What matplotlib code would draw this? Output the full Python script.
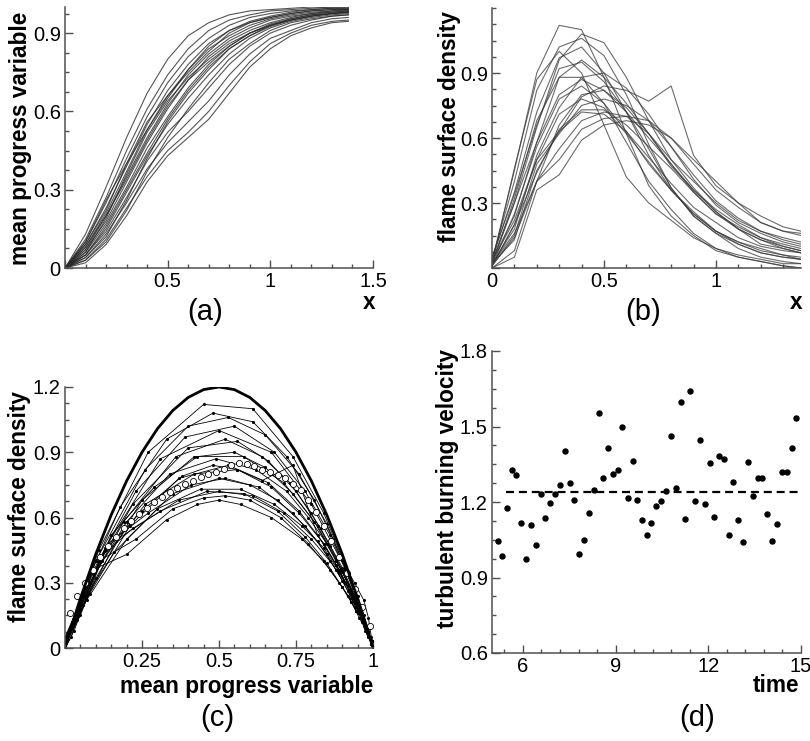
import matplotlib
matplotlib.use("Agg")
import matplotlib.pyplot as plt
from matplotlib.ticker import MultipleLocator

plt.rcParams['font.family'] = ['Liberation Sans', 'DejaVu Sans']

# ---- data ----
x_grid = [0, 0.1, 0.2, 0.3, 0.4, 0.5, 0.6, 0.7, 0.8, 0.9, 1.0, 1.1, 1.2, 1.3, 1.38]

# (a) mean progress variable, one row per realisation
progress_curves = [
    [0, 0.13, 0.31, 0.50, 0.67, 0.80, 0.89, 0.94, 0.97, 0.985, 0.99, 0.995, 1.0, 1.0, 1.0],
    [0, 0.11, 0.27, 0.45, 0.61, 0.74, 0.84, 0.91, 0.95, 0.97, 0.985, 0.99, 0.995, 1.0, 1.0],
    [0, 0.10, 0.25, 0.42, 0.58, 0.71, 0.81, 0.88, 0.93, 0.96, 0.975, 0.985, 0.99, 0.995, 0.995],
    [0, 0.09, 0.23, 0.39, 0.55, 0.68, 0.78, 0.86, 0.91, 0.94, 0.96, 0.975, 0.985, 0.99, 0.99],
    [0, 0.08, 0.21, 0.37, 0.53, 0.66, 0.76, 0.84, 0.89, 0.93, 0.955, 0.97, 0.98, 0.985, 0.99],
    [0, 0.07, 0.20, 0.35, 0.50, 0.63, 0.74, 0.82, 0.88, 0.92, 0.95, 0.965, 0.975, 0.985, 0.985],
    [0, 0.07, 0.18, 0.33, 0.48, 0.61, 0.72, 0.81, 0.87, 0.91, 0.94, 0.96, 0.975, 0.98, 0.985],
    [0, 0.06, 0.17, 0.31, 0.46, 0.58, 0.69, 0.78, 0.85, 0.90, 0.93, 0.955, 0.97, 0.975, 0.98],
    [0, 0.05, 0.15, 0.29, 0.43, 0.55, 0.65, 0.74, 0.82, 0.88, 0.92, 0.945, 0.96, 0.97, 0.975],
    [0, 0.05, 0.14, 0.27, 0.41, 0.52, 0.60, 0.69, 0.78, 0.85, 0.90, 0.93, 0.95, 0.965, 0.97],
    [0, 0.04, 0.13, 0.25, 0.38, 0.48, 0.56, 0.64, 0.74, 0.82, 0.88, 0.91, 0.94, 0.955, 0.96],
    [0, 0.03, 0.11, 0.23, 0.35, 0.45, 0.52, 0.60, 0.70, 0.79, 0.86, 0.90, 0.93, 0.945, 0.95],
    [0, 0.02, 0.09, 0.20, 0.33, 0.43, 0.50, 0.57, 0.67, 0.77, 0.84, 0.89, 0.92, 0.94, 0.945],
    [0, 0.06, 0.19, 0.36, 0.52, 0.64, 0.73, 0.80, 0.86, 0.90, 0.93, 0.95, 0.965, 0.975, 0.98],
    [0, 0.09, 0.22, 0.40, 0.56, 0.66, 0.75, 0.83, 0.90, 0.94, 0.96, 0.975, 0.985, 0.99, 0.99],
    [0, 0.04, 0.12, 0.26, 0.42, 0.56, 0.67, 0.76, 0.84, 0.89, 0.925, 0.95, 0.965, 0.975, 0.98],
    [0, 0.10, 0.26, 0.40, 0.53, 0.65, 0.76, 0.85, 0.91, 0.945, 0.965, 0.98, 0.99, 0.995, 0.995],
    [0, 0.05, 0.16, 0.30, 0.44, 0.57, 0.68, 0.77, 0.84, 0.89, 0.93, 0.95, 0.965, 0.975, 0.98],
    [0, 0.08, 0.20, 0.34, 0.49, 0.62, 0.72, 0.79, 0.85, 0.90, 0.935, 0.955, 0.97, 0.98, 0.985],
    [0, 0.03, 0.10, 0.22, 0.37, 0.50, 0.61, 0.71, 0.80, 0.86, 0.91, 0.94, 0.955, 0.965, 0.97],
]

# (b) flame surface density, same realisations in the same order
fsd_curves = [
    [0.02, 0.46, 0.87, 1.00, 0.90, 0.66, 0.42, 0.30, 0.22, 0.14, 0.09, 0.05, 0.03, 0.01, 0.0],
    [0.03, 0.45, 0.90, 1.12, 1.10, 0.88, 0.62, 0.38, 0.24, 0.15, 0.08, 0.05, 0.03, 0.01, 0.0],
    [0.02, 0.32, 0.68, 0.88, 0.88, 0.76, 0.58, 0.40, 0.27, 0.16, 0.09, 0.06, 0.04, 0.02, 0.02],
    [0.04, 0.35, 0.72, 0.97, 1.02, 0.90, 0.72, 0.52, 0.36, 0.25, 0.17, 0.11, 0.07, 0.05, 0.04],
    [0.01, 0.25, 0.56, 0.78, 0.84, 0.76, 0.63, 0.48, 0.36, 0.25, 0.17, 0.12, 0.08, 0.06, 0.04],
    [0.03, 0.22, 0.50, 0.71, 0.78, 0.74, 0.62, 0.49, 0.36, 0.26, 0.17, 0.12, 0.09, 0.06, 0.05],
    [0.02, 0.30, 0.65, 0.96, 1.08, 1.04, 0.88, 0.68, 0.50, 0.37, 0.26, 0.18, 0.11, 0.09, 0.07],
    [0.01, 0.20, 0.50, 0.63, 0.72, 0.71, 0.63, 0.51, 0.39, 0.28, 0.21, 0.14, 0.10, 0.08, 0.07],
    [0.02, 0.18, 0.52, 0.74, 0.88, 0.90, 0.83, 0.71, 0.56, 0.41, 0.29, 0.21, 0.16, 0.12, 0.10],
    [0.01, 0.15, 0.48, 0.62, 0.75, 0.78, 0.75, 0.68, 0.56, 0.43, 0.31, 0.23, 0.17, 0.13, 0.11],
    [0.02, 0.13, 0.45, 0.63, 0.79, 0.84, 0.82, 0.77, 0.84, 0.52, 0.38, 0.30, 0.21, 0.17, 0.15],
    [0.0, 0.08, 0.40, 0.50, 0.64, 0.69, 0.70, 0.68, 0.60, 0.48, 0.36, 0.28, 0.21, 0.17, 0.16],
    [0.0, 0.05, 0.36, 0.43, 0.59, 0.66, 0.68, 0.66, 0.60, 0.50, 0.40, 0.30, 0.24, 0.19, 0.17],
    [0.03, 0.24, 0.58, 0.88, 0.96, 0.88, 0.76, 0.62, 0.47, 0.36, 0.27, 0.20, 0.14, 0.10, 0.08],
    [0.05, 0.34, 0.66, 0.92, 0.95, 0.86, 0.72, 0.55, 0.37, 0.24, 0.16, 0.11, 0.07, 0.05, 0.04],
    [0.02, 0.16, 0.40, 0.66, 0.80, 0.82, 0.74, 0.62, 0.48, 0.36, 0.26, 0.18, 0.13, 0.10, 0.08],
    [0.04, 0.40, 0.82, 1.02, 1.06, 0.98, 0.80, 0.57, 0.37, 0.24, 0.16, 0.09, 0.05, 0.03, 0.02],
    [0.01, 0.20, 0.44, 0.64, 0.73, 0.73, 0.66, 0.56, 0.46, 0.35, 0.25, 0.19, 0.14, 0.11, 0.09],
    [0.03, 0.30, 0.58, 0.80, 0.87, 0.82, 0.72, 0.60, 0.48, 0.35, 0.25, 0.18, 0.13, 0.09, 0.07],
    [0.01, 0.14, 0.40, 0.55, 0.68, 0.72, 0.70, 0.62, 0.50, 0.40, 0.30, 0.22, 0.17, 0.14, 0.12],
]

# (c) averaged profile (white circles) and bounding model curve
c_mean = [0.015, 0.04, 0.065, 0.09, 0.115, 0.14, 0.165, 0.19, 0.215, 0.24,
          0.265, 0.29, 0.315, 0.34, 0.365, 0.39, 0.415, 0.44, 0.465, 0.49,
          0.515, 0.54, 0.565, 0.59, 0.615, 0.64, 0.665, 0.69, 0.715, 0.74,
          0.765, 0.79, 0.815, 0.84, 0.865, 0.89, 0.915, 0.94, 0.965, 0.99]
fsd_mean = [0.16, 0.24, 0.30, 0.36, 0.42, 0.47, 0.51, 0.55, 0.585, 0.615,
            0.645, 0.67, 0.695, 0.715, 0.735, 0.755, 0.77, 0.785, 0.80, 0.81,
            0.825, 0.84, 0.85, 0.845, 0.835, 0.82, 0.81, 0.795, 0.78, 0.755,
            0.725, 0.68, 0.625, 0.56, 0.49, 0.42, 0.345, 0.27, 0.19, 0.10]
c_model = [0, 0.01, 0.025, 0.05, 0.1, 0.15, 0.2, 0.25, 0.3, 0.35, 0.4, 0.45, 0.5,
           0.55, 0.6, 0.65, 0.7, 0.75, 0.8, 0.85, 0.9, 0.95, 0.975, 0.99, 1.0]
fsd_model = [0, 0.048, 0.117, 0.228, 0.432, 0.612, 0.768, 0.90, 1.008, 1.092, 1.152, 1.188, 1.20,
             1.188, 1.152, 1.092, 1.008, 0.90, 0.768, 0.612, 0.432, 0.228, 0.117, 0.048, 0]

# (d) turbulent burning velocity vs time
times = [5.18, 5.31, 5.47, 5.64, 5.79, 5.95, 6.11, 6.26, 6.42, 6.57, 6.73, 6.89, 7.04,
         7.20, 7.35, 7.51, 7.66, 7.82, 7.97, 8.13, 8.29, 8.45, 8.60, 8.76, 8.91, 9.07,
         9.22, 9.39, 9.55, 9.70, 9.86, 10.01, 10.16, 10.32, 10.48, 10.64, 10.80, 10.95,
         11.11, 11.26, 11.41, 11.57, 11.72, 11.88, 12.04, 12.19, 12.35, 12.50, 12.66,
         12.81, 12.97, 13.13, 13.29, 13.44, 13.60, 13.75, 13.91, 14.07, 14.22, 14.39,
         14.54, 14.70, 14.85]
velocity = [1.044, 0.987, 1.175, 1.329, 1.308, 1.117, 0.974, 1.107, 1.031, 1.231, 1.138,
            1.198, 1.231, 1.266, 1.404, 1.276, 1.209, 0.995, 1.048, 1.158, 1.247, 1.552,
            1.295, 1.413, 1.312, 1.329, 1.499, 1.217, 1.361, 1.207, 1.129, 1.067, 1.118,
            1.186, 1.205, 1.244, 1.463, 1.254, 1.596, 1.133, 1.641, 1.203, 1.445, 1.194,
            1.356, 1.141, 1.384, 1.372, 1.069, 1.280, 1.128, 1.042, 1.360, 1.222, 1.296,
            1.295, 1.152, 1.046, 1.111, 1.320, 1.319, 1.414, 1.532]
mean_velocity = 1.24
mean_span = [5.45, 15.0]

W, H = 810, 741
AXC = '#505050'
fig = plt.figure(figsize=(W / 100, H / 100), dpi=100)


def px_axes(left, top, right, bottom):
    return fig.add_axes([left / W, 1 - bottom / H, (right - left) / W, (bottom - top) / H])


def style(ax, xlim, ylim, xt, xl, xminor, yt, yl, yminor):
    ax.set_xlim(*xlim)
    ax.set_ylim(*ylim)
    for s in ['top', 'right']:
        ax.spines[s].set_visible(False)
    for s in ['left', 'bottom']:
        ax.spines[s].set_color(AXC)
        ax.spines[s].set_linewidth(1.1)
    ax.set_xticks(xt, xl)
    ax.set_yticks(yt, yl)
    ax.xaxis.set_minor_locator(MultipleLocator(xminor))
    ax.yaxis.set_minor_locator(MultipleLocator(yminor))
    ax.tick_params(which='both', direction='in', color=AXC, width=1.0,
                   labelsize=14.5, pad=3)
    ax.tick_params(which='major', length=6)
    ax.tick_params(which='minor', length=3)


def label(x, y, s, size=16.3, bold=True, rot=0, ha='center'):
    fig.text(x / W, 1 - y / H, s, fontsize=size, rotation=rot, ha=ha, va='center',
             fontweight='bold' if bold else 'normal')


# (a)
ax = px_axes(65, 7, 373, 268)
for row in progress_curves:
    ax.plot(x_grid, row, color='#2a2a2a', lw=0.8, alpha=0.8)
style(ax, (0, 1.5), (0, 1.0), [0, 0.5, 1, 1.5], ['', '0.5', '1', '1.5'], 0.1,
      [0, 0.3, 0.6, 0.9], ['0', '0.3', '0.6', '0.9'], 0.075)
label(21, 138, 'mean progress variable', rot=90)
label(369, 302, 'x')
label(205, 312, '(a)', size=21, bold=False)

# (b)
ax = px_axes(492, 8, 801, 268)
for row in fsd_curves:
    ax.plot(x_grid, row, color='#3a3a3a', lw=0.8, alpha=0.75)
style(ax, (0, 1.38), (0, 1.2), [0, 0.5, 1], ['0', '0.5', '1'], 0.1,
      [0, 0.3, 0.6, 0.9], ['', '0.3', '0.6', '0.9'], 0.075)
label(449, 127, 'flame surface density', rot=90)
label(796, 302, 'x')
label(643, 312, '(b)', size=21, bold=False)

# (c)
ax = px_axes(65, 387, 373, 648)
for cr, sr in zip(progress_curves, fsd_curves):
    ax.plot(cr, sr, color='black', lw=0.6, marker='.', ms=2.5)
ax.plot(c_mean, fsd_mean, ls='none', marker='o', ms=4.4, mfc='white', mec='black', mew=0.6)
ax.plot(c_model, fsd_model, color='black', lw=2.0)
style(ax, (0, 1), (0, 1.2), [0, 0.25, 0.5, 0.75, 1], ['', '0.25', '0.5', '0.75', '1'], 0.05,
      [0, 0.3, 0.6, 0.9, 1.2], ['0', '0.3', '0.6', '0.9', '1.2'], 0.075)
label(20, 507, 'flame surface density', rot=90)
label(373, 686, 'mean progress variable', ha='right')
label(217, 718, '(c)', size=21, bold=False)

# (d)
ax = px_axes(492, 351, 801, 653)
ax.plot(times, velocity, ls='none', marker='o', ms=3.6, color='black')
ax.plot(mean_span, [mean_velocity, mean_velocity], color='black', lw=1.6,
        ls=(0, (3.6, 2.2)))
style(ax, (5, 15), (0.6, 1.8), [6, 9, 12, 15], ['6', '9', '12', '15'], 0.6,
      [0.6, 0.9, 1.2, 1.5, 1.8], ['0.6', '0.9', '1.2', '1.5', '1.8'], 0.075)
for lab in ax.get_xticklabels() + ax.get_yticklabels():
    lab.set_clip_on(False)
label(448, 489, 'turbulent burning velocity', rot=90)
label(776, 686, 'time')
label(697, 718, '(d)', size=21, bold=False)

fig.savefig('out.png', dpi=100)
